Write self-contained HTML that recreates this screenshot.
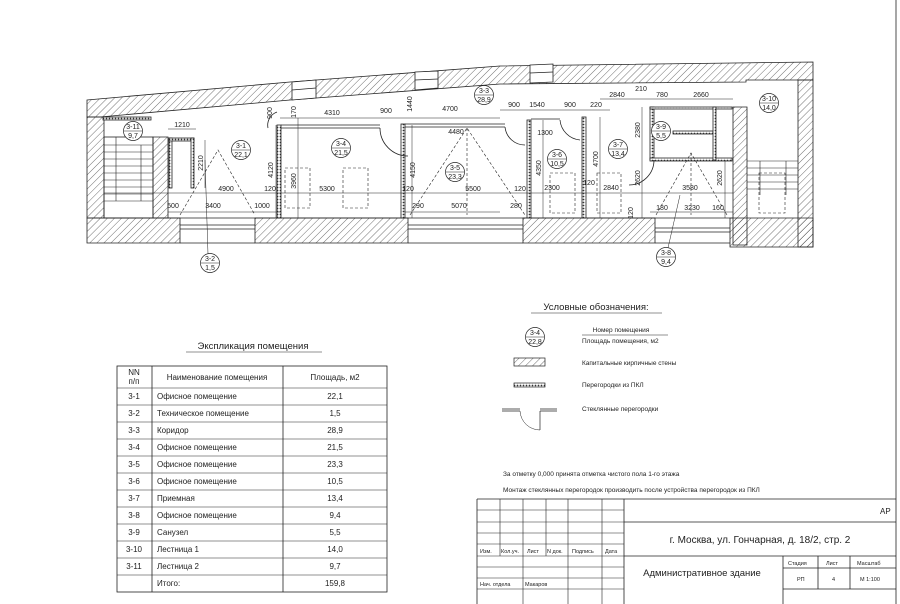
<!DOCTYPE html>
<html><head><meta charset="utf-8"><style>
html,body{margin:0;padding:0;background:#fff}
svg{display:block}
text{font-family:"Liberation Sans",sans-serif;fill:#222}
.d{font-size:7px}
.t{font-size:8px}
</style></head><body>
<svg width="900" height="604" viewBox="0 0 900 604" xmlns="http://www.w3.org/2000/svg">
<defs>
<pattern id="h" width="5" height="5" patternUnits="userSpaceOnUse" patternTransform="rotate(45)">
<line x1="0" y1="0" x2="0" y2="5" stroke="#333" stroke-width="0.7"/>
</pattern>
<pattern id="p" width="3" height="3" patternUnits="userSpaceOnUse">
<rect width="3" height="3" fill="#fff"/><circle cx="1.5" cy="1.5" r="0.9" fill="#333"/>
</pattern>
</defs>
<g stroke="#222" stroke-width="0.8" fill="none">
<!-- frame -->
<line x1="896" y1="0" x2="896" y2="604"/>

<!-- top wall -->
<polygon points="87,100 290,82 500,66 813,62 813,80 746,80 746,82 500,84 290,100 100,117 87,117" fill="url(#h)"/>
<polygon points="292,82 316,80 316,98 292,100" fill="#fff"/>
<polygon points="415,72 438,71 438,88 415,90" fill="#fff"/>
<polygon points="530,65 553,64 553,82 530,83" fill="#fff"/>
<line x1="292" y1="90" x2="316" y2="88"/><line x1="415" y1="80" x2="438" y2="79"/><line x1="530" y1="73" x2="553" y2="72"/>
<!-- left wall -->
<polygon points="87,117 104,117 104,218 87,218" fill="url(#h)"/>
<polygon points="153,137 168,137 168,218 153,218" fill="url(#h)"/>
<!-- right walls -->
<polygon points="798,80 813,80 813,247 798,247" fill="url(#h)"/>
<polygon points="733,107 747,107 747,245 733,245" fill="url(#h)"/>
<!-- bottom walls -->
<polygon points="87,218 180,218 180,243 87,243" fill="url(#h)"/>
<polygon points="255,218 408,218 408,243 255,243" fill="url(#h)"/>
<polygon points="523,218 655,218 655,243 523,243" fill="url(#h)"/>
<polygon points="730,218 813,218 813,247 730,247" fill="url(#h)"/>
<line x1="180" y1="225" x2="255" y2="225"/><line x1="180" y1="229" x2="255" y2="229"/><line x1="180" y1="243" x2="255" y2="243"/>
<line x1="408" y1="225" x2="523" y2="225"/><line x1="408" y1="229" x2="523" y2="229"/><line x1="408" y1="243" x2="523" y2="243"/>
<line x1="655" y1="228" x2="730" y2="228"/><line x1="655" y1="232" x2="730" y2="232"/><line x1="655" y1="243" x2="730" y2="243"/>
<line x1="104" y1="218" x2="733" y2="218"/>

<!-- partitions -->
<rect x="277" y="125" width="4" height="93" fill="url(#p)"/>
<rect x="401" y="124" width="4" height="94" fill="url(#p)"/>
<rect x="527" y="120" width="4" height="98" fill="url(#p)"/>
<rect x="582" y="117" width="4" height="101" fill="url(#p)"/>
<rect x="650" y="107" width="4" height="53" fill="url(#p)"/>
<rect x="650" y="107" width="82" height="2" fill="url(#p)"/>
<rect x="650" y="158" width="82" height="3" fill="url(#p)"/>
<rect x="673" y="131" width="40" height="3" fill="url(#p)"/>
<rect x="713" y="107" width="3" height="53" fill="url(#p)"/>
<rect x="169" y="138" width="3" height="50" fill="url(#p)"/>
<rect x="169" y="138" width="25" height="3" fill="url(#p)"/>
<rect x="191" y="138" width="3" height="50" fill="url(#p)"/>
<rect x="103" y="117" width="48" height="3" fill="url(#p)"/>
<!-- glass partitions top -->
<line x1="281" y1="125" x2="380" y2="125"/><line x1="281" y1="128" x2="380" y2="128"/>
<line x1="405" y1="124" x2="505" y2="124"/><line x1="405" y1="127" x2="505" y2="127"/>
<line x1="531" y1="119" x2="560" y2="119"/>
<path d="M380,128 A28,28 0 0 0 408,156"/>
<path d="M505,127 A20,20 0 0 0 525,145"/>
<path d="M560,120 A22,22 0 0 0 580,140"/>
<path d="M654,160 A25,25 0 0 1 629,185"/>
<path d="M268,128 A14,14 0 0 1 277,112"/>
<!-- stairs -->
<rect x="104" y="137" width="49" height="81"/>
<g stroke-width="0.6">
<line x1="104" y1="145" x2="153" y2="145"/><line x1="104" y1="152" x2="153" y2="152"/><line x1="104" y1="159" x2="153" y2="159"/><line x1="104" y1="166" x2="153" y2="166"/><line x1="104" y1="173" x2="153" y2="173"/><line x1="104" y1="180" x2="153" y2="180"/><line x1="104" y1="187" x2="153" y2="187"/><line x1="104" y1="194" x2="153" y2="194"/><line x1="104" y1="201" x2="153" y2="201"/>
<line x1="116" y1="137" x2="116" y2="201"/><line x1="141" y1="145" x2="141" y2="201"/>
<line x1="747" y1="161" x2="798" y2="161"/><line x1="747" y1="168" x2="798" y2="168"/><line x1="747" y1="175" x2="798" y2="175"/><line x1="747" y1="182" x2="798" y2="182"/><line x1="747" y1="189" x2="798" y2="189"/>
<line x1="760" y1="161" x2="760" y2="195"/><line x1="786" y1="161" x2="786" y2="195"/>
</g>
<!-- dashed -->
<g stroke-dasharray="3,2" stroke-width="0.6">
<rect x="285" y="168" width="25" height="40"/><rect x="343" y="168" width="25" height="40"/>
<rect x="550" y="173" width="25" height="40"/><rect x="597" y="173" width="24" height="40"/>
<rect x="759" y="173" width="26" height="40"/>
<polyline points="180,215 218,150 255,215"/>
<polyline points="410,215 467,128 525,215"/>
<polyline points="656,215 691,153 727,215"/>
<line x1="467" y1="128" x2="467" y2="215"/><line x1="691" y1="153" x2="691" y2="215"/>
</g>
<!-- dimension lines -->
<g stroke-width="0.5">
<line x1="104" y1="193" x2="733" y2="193"/>
<line x1="168" y1="212" x2="280" y2="212"/><line x1="405" y1="212" x2="500" y2="212"/><line x1="650" y1="212" x2="733" y2="212"/>
<line x1="280" y1="118" x2="500" y2="118"/><line x1="500" y1="110" x2="610" y2="110"/><line x1="600" y1="99" x2="733" y2="99"/>
<line x1="168" y1="129" x2="196" y2="129"/>
<line x1="205" y1="140" x2="205" y2="188"/>
<line x1="276" y1="125" x2="276" y2="218"/><line x1="298" y1="118" x2="298" y2="218"/>
<line x1="412" y1="125" x2="412" y2="218"/><line x1="543" y1="120" x2="543" y2="218"/>
<line x1="600" y1="117" x2="600" y2="218"/><line x1="642" y1="107" x2="642" y2="218"/><line x1="725" y1="160" x2="725" y2="218"/>
</g>
</g>
<g fill="#fff" stroke="#222" stroke-width="0.7">
<circle cx="133" cy="131" r="9.5"/><circle cx="241" cy="150" r="9.5"/><circle cx="341" cy="148" r="9.5"/>
<circle cx="484" cy="95" r="9.5"/><circle cx="455" cy="172" r="9.5"/><circle cx="557" cy="159" r="9.5"/>
<circle cx="618" cy="149" r="9.5"/><circle cx="661" cy="131" r="9.5"/><circle cx="769" cy="103" r="9.5"/>
<circle cx="210" cy="263" r="9.5"/><circle cx="666" cy="257" r="9.5"/><circle cx="535" cy="337" r="9.5"/>
</g>
<g stroke="#222" stroke-width="0.5">
<line x1="205" y1="160" x2="208" y2="254"/><line x1="680" y1="195" x2="668" y2="248"/>
<line x1="124" y1="131" x2="142" y2="131"/><line x1="232" y1="150" x2="250" y2="150"/><line x1="332" y1="148" x2="350" y2="148"/>
<line x1="475" y1="95" x2="493" y2="95"/><line x1="446" y1="172" x2="464" y2="172"/><line x1="548" y1="159" x2="566" y2="159"/>
<line x1="609" y1="149" x2="627" y2="149"/><line x1="652" y1="131" x2="670" y2="131"/><line x1="760" y1="103" x2="778" y2="103"/>
<line x1="201" y1="263" x2="219" y2="263"/><line x1="657" y1="257" x2="675" y2="257"/><line x1="526" y1="337" x2="544" y2="337"/>
</g>
<g class="d" text-anchor="middle" font-size="6.5">
<text x="133" y="129">3-11</text><text x="133" y="138">9,7</text>
<text x="241" y="148">3-1</text><text x="241" y="157">22,1</text>
<text x="341" y="146">3-4</text><text x="341" y="155">21,5</text>
<text x="484" y="93">3-3</text><text x="484" y="102">28,9</text>
<text x="455" y="170">3-5</text><text x="455" y="179">23,3</text>
<text x="557" y="157">3-6</text><text x="557" y="166">10,5</text>
<text x="618" y="147">3-7</text><text x="618" y="156">13,4</text>
<text x="661" y="129">3-9</text><text x="661" y="138">5,5</text>
<text x="769" y="101">3-10</text><text x="769" y="110">14,0</text>
<text x="210" y="261">3-2</text><text x="210" y="270">1,5</text>
<text x="666" y="255">3-8</text><text x="666" y="264">9,4</text>
<text x="535" y="335">3-4</text><text x="535" y="344">22,8</text>
</g>
<g class="d" text-anchor="middle">
<text x="182" y="127">1210</text><text x="226" y="191">4900</text><text x="270" y="191">120</text><text x="327" y="191">5300</text>
<text x="408" y="191">120</text><text x="473" y="191">5500</text><text x="520" y="191">120</text><text x="552" y="190">2300</text>
<text x="589" y="185">120</text><text x="611" y="190">2840</text><text x="690" y="190">3580</text>
<text x="173" y="208">500</text><text x="213" y="208">3400</text><text x="262" y="208">1000</text><text x="418" y="208">290</text>
<text x="459" y="208">5070</text><text x="516" y="208">280</text><text x="662" y="210">180</text><text x="692" y="210">3230</text><text x="718" y="210">160</text>
<text x="332" y="115">4310</text><text x="386" y="113">900</text><text x="450" y="111">4700</text><text x="456" y="134">4480</text>
<text x="514" y="107">900</text><text x="537" y="107">1540</text><text x="570" y="107">900</text><text x="596" y="107">220</text>
<text x="617" y="97">2840</text><text x="641" y="91">210</text><text x="662" y="97">780</text><text x="701" y="97">2660</text><text x="545" y="135">1300</text>
</g>
<g class="d" text-anchor="middle">
<text transform="translate(203,163) rotate(-90)">2210</text>
<text transform="translate(273,170) rotate(-90)">4120</text>
<text transform="translate(296,181) rotate(-90)">3960</text>
<text transform="translate(415,170) rotate(-90)">4150</text>
<text transform="translate(272,113) rotate(-90)">900</text>
<text transform="translate(296,112) rotate(-90)">170</text>
<text transform="translate(412,104) rotate(-90)">1440</text>
<text transform="translate(541,168) rotate(-90)">4350</text>
<text transform="translate(598,159) rotate(-90)">4700</text>
<text transform="translate(640,130) rotate(-90)">2380</text>
<text transform="translate(640,178) rotate(-90)">2620</text>
<text transform="translate(722,178) rotate(-90)">2620</text>
<text transform="translate(633,213) rotate(-90)">120</text>
</g>

<!-- Explication -->
<text x="253" y="349" font-size="9.5" text-anchor="middle">Экспликация помещения</text>
<line x1="186" y1="352" x2="322" y2="352" stroke="#222" stroke-width="0.6"/>
<g stroke="#222" stroke-width="0.8" fill="none">
<rect x="117" y="366" width="270" height="226"/>
<line x1="152" y1="366" x2="152" y2="592"/><line x1="283" y1="366" x2="283" y2="592"/>
</g>
<g stroke="#222" stroke-width="0.6">
<line x1="117" y1="388" x2="387" y2="388"/><line x1="117" y1="405" x2="387" y2="405"/><line x1="117" y1="422" x2="387" y2="422"/>
<line x1="117" y1="439" x2="387" y2="439"/><line x1="117" y1="456" x2="387" y2="456"/><line x1="117" y1="473" x2="387" y2="473"/>
<line x1="117" y1="490" x2="387" y2="490"/><line x1="117" y1="507" x2="387" y2="507"/><line x1="117" y1="524" x2="387" y2="524"/>
<line x1="117" y1="541" x2="387" y2="541"/><line x1="117" y1="558" x2="387" y2="558"/><line x1="117" y1="575" x2="387" y2="575"/>
</g>
<g class="t" font-size="7">
<text x="134" y="375" text-anchor="middle">NN</text><text x="134" y="384" text-anchor="middle">п/п</text>
<text x="217" y="380" text-anchor="middle">Наименование помещения</text><text x="335" y="380" text-anchor="middle">Площадь, м2</text>
<g text-anchor="middle">
<text x="134" y="399">3-1</text><text x="134" y="416">3-2</text><text x="134" y="433">3-3</text><text x="134" y="450">3-4</text>
<text x="134" y="467">3-5</text><text x="134" y="484">3-6</text><text x="134" y="501">3-7</text><text x="134" y="518">3-8</text>
<text x="134" y="535">3-9</text><text x="134" y="552">3-10</text><text x="134" y="569">3-11</text>
<text x="335" y="399">22,1</text><text x="335" y="416">1,5</text><text x="335" y="433">28,9</text><text x="335" y="450">21,5</text>
<text x="335" y="467">23,3</text><text x="335" y="484">10,5</text><text x="335" y="501">13,4</text><text x="335" y="518">9,4</text>
<text x="335" y="535">5,5</text><text x="335" y="552">14,0</text><text x="335" y="569">9,7</text><text x="335" y="586">159,8</text>
</g>
<text x="157" y="399">Офисное помещение</text><text x="157" y="416">Техническое помещение</text><text x="157" y="433">Коридор</text>
<text x="157" y="450">Офисное помещение</text><text x="157" y="467">Офисное помещение</text><text x="157" y="484">Офисное помещение</text>
<text x="157" y="501">Приемная</text><text x="157" y="518">Офисное помещение</text><text x="157" y="535">Санузел</text>
<text x="157" y="552">Лестница 1</text><text x="157" y="569">Лестница 2</text><text x="157" y="586">Итого:</text>
</g>

<!-- Legend -->
<text x="596" y="310" font-size="9.5" text-anchor="middle">Условные обозначения:</text>
<line x1="531" y1="313" x2="662" y2="313" stroke="#222" stroke-width="0.6"/>
<g font-size="6.5">
<text x="621" y="332" text-anchor="middle">Номер помещения</text>
<line x1="582" y1="335" x2="668" y2="335" stroke="#222" stroke-width="0.5"/>
<text x="582" y="343">Площадь помещения, м2</text>
<text x="582" y="365">Капитальные кирпичные стены</text>
<text x="582" y="387">Перегородки из ПКЛ</text>
<text x="582" y="411">Стеклянные перегородки</text>
<text x="503" y="476">За отметку 0,000 принята отметка чистого пола 1-го этажа</text>
<text x="503" y="492">Монтаж стеклянных перегородок производить после устройства перегородок из ПКЛ</text>
</g>
<rect x="514" y="358" width="31" height="8" fill="url(#h)" stroke="#222" stroke-width="0.7"/>
<rect x="514" y="383" width="31" height="4" fill="url(#p)" stroke="#222" stroke-width="0.7"/>
<g stroke="#222" stroke-width="0.7" fill="none">
<line x1="502" y1="409" x2="520" y2="409"/><line x1="502" y1="411" x2="520" y2="411"/>
<line x1="540" y1="409" x2="557" y2="409"/><line x1="540" y1="411" x2="557" y2="411"/>
<line x1="540" y1="411" x2="540" y2="430"/>
<path d="M520,411 A20,20 0 0 0 540,430" stroke-width="0.5"/>
</g>

<!-- Title block -->
<g stroke="#222" stroke-width="0.8" fill="none">
<line x1="477" y1="499" x2="896" y2="499"/>
<line x1="477" y1="499" x2="477" y2="604"/>
<line x1="624" y1="499" x2="624" y2="604"/>
<line x1="624" y1="522" x2="896" y2="522"/>
<line x1="624" y1="556" x2="896" y2="556"/>
<line x1="783" y1="556" x2="783" y2="604"/>
<line x1="783" y1="568" x2="896" y2="568"/>
<line x1="783" y1="589" x2="896" y2="589"/>
<line x1="818" y1="556" x2="818" y2="589"/><line x1="850" y1="556" x2="850" y2="589"/>
</g>
<g stroke="#222" stroke-width="0.6">
<line x1="477" y1="510" x2="624" y2="510"/><line x1="477" y1="522" x2="624" y2="522"/><line x1="477" y1="533" x2="624" y2="533"/>
<line x1="477" y1="544" x2="624" y2="544"/><line x1="477" y1="556" x2="624" y2="556"/><line x1="477" y1="567" x2="624" y2="567"/>
<line x1="477" y1="578" x2="624" y2="578"/><line x1="477" y1="589" x2="624" y2="589"/>
<line x1="500" y1="499" x2="500" y2="556"/><line x1="523" y1="499" x2="523" y2="604"/><line x1="546" y1="499" x2="546" y2="556"/>
<line x1="568" y1="499" x2="568" y2="604"/><line x1="602" y1="499" x2="602" y2="604"/>
</g>
<g font-size="5.5">
<text x="480" y="553">Изм.</text><text x="501" y="553">Кол.уч.</text><text x="527" y="553">Лист</text><text x="547" y="553">N док.</text>
<text x="572" y="553">Подпись</text><text x="605" y="553">Дата</text>
<text x="480" y="586">Нач. отдела</text><text x="525" y="586">Макаров</text>
<text x="788" y="565">Стадия</text><text x="826" y="565">Лист</text><text x="857" y="565">Масштаб</text>
<text x="797" y="581">РП</text><text x="832" y="581">4</text><text x="860" y="581">М 1:100</text>
</g>
<text x="880" y="514" font-size="8">АР</text>
<text x="760" y="543" font-size="10" text-anchor="middle">г. Москва, ул. Гончарная, д. 18/2, стр. 2</text>
<text x="702" y="576" font-size="9.5" text-anchor="middle">Административное здание</text>
</svg>
</body></html>
